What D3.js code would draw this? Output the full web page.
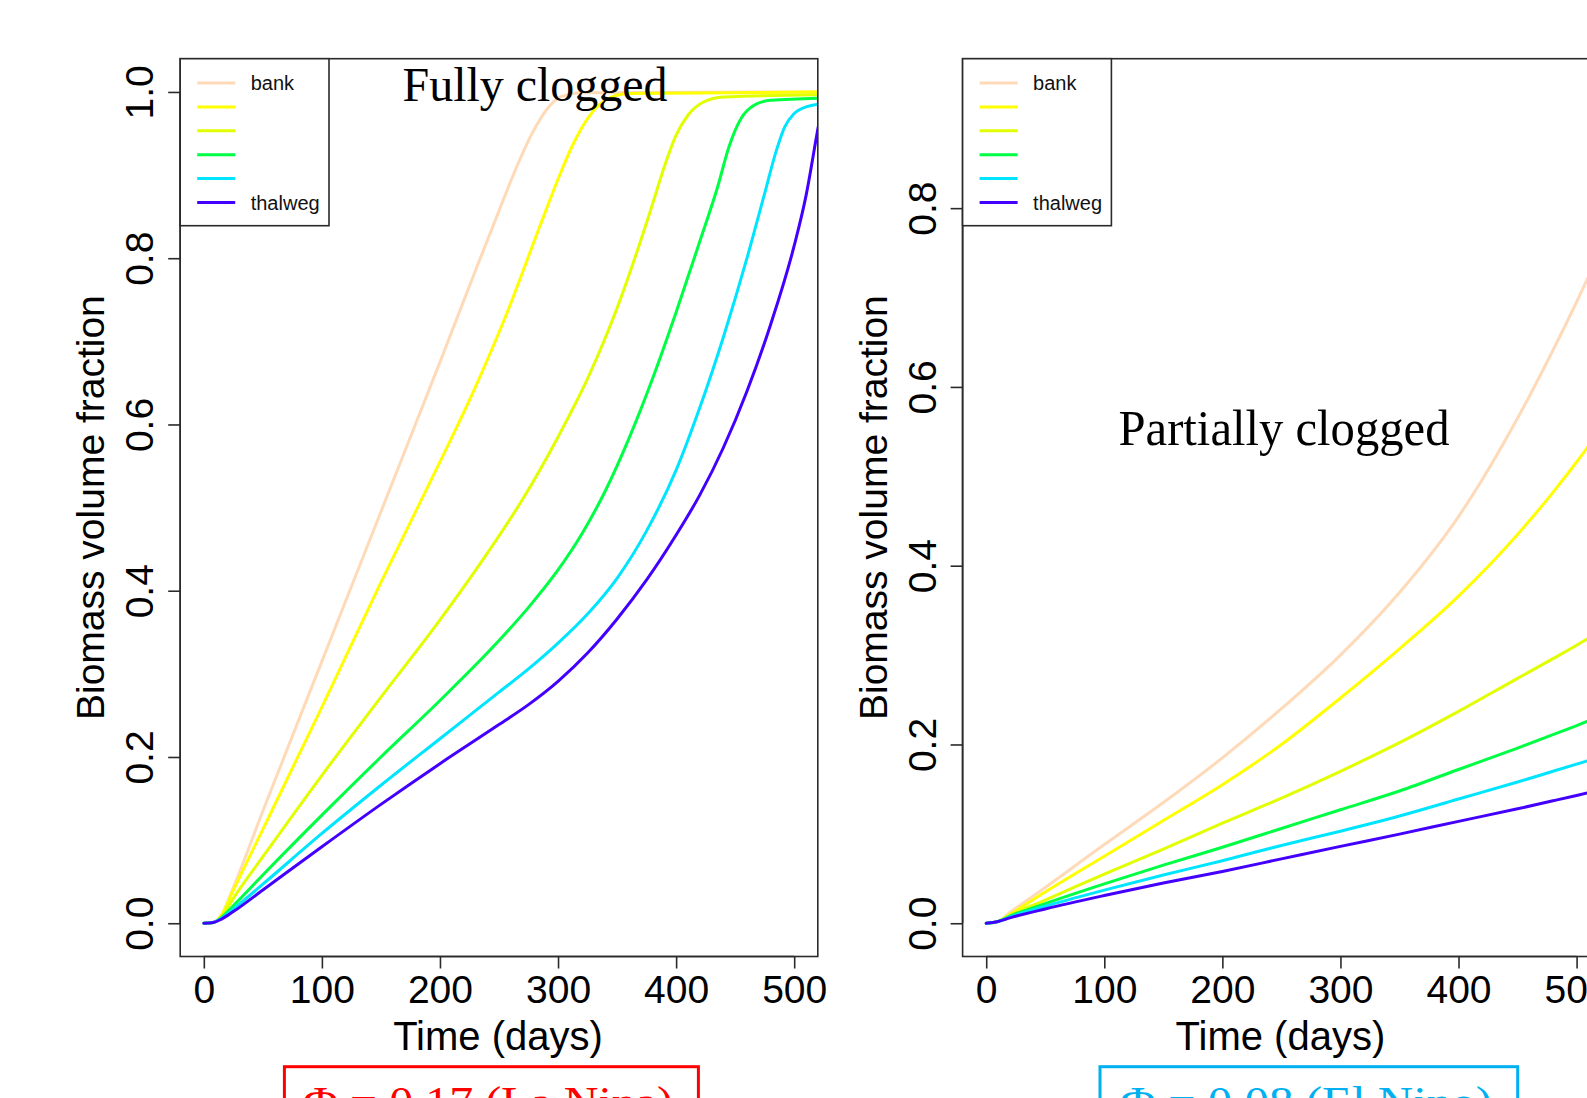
<!DOCTYPE html>
<html><head><meta charset="utf-8">
<script src="https://cdn.jsdelivr.net/npm/d3@7"></script>
<style>html,body{margin:0;padding:0;background:#fff;overflow:hidden}</style>
</head><body>
<svg id="chart" width="1587" height="1098"></svg>
<script>
// ---------------- DATA ----------------
const seriesNames = ["bank", "", "", "", "", "thalweg"];
const seriesColors = ["#FFDAB9", "#FFFF00", "#E2FF00", "#00FF44", "#00E5FF", "#4400FF"];
const xTicks = [0, 100, 200, 300, 400, 500];
const yTicksFull = [0, 0.2, 0.4, 0.6, 0.8, 1.0];
const yTicksPartial = [0, 0.2, 0.4, 0.6, 0.8];

// Fully clogged panel: [day, biomass volume fraction]
const fullBank    = [[0,0],[8,0.001],[15,0.01],[25,0.043],[50,0.135],[100,0.315],[150,0.495],[200,0.675],[230,0.785],[250,0.857],[265,0.91],[278,0.95],[290,0.978],[302,0.994],[320,0.999],[540,1]];
const fullYellow  = [[0,0],[8,0.001],[15,0.01],[25,0.04],[50,0.113],[100,0.26],[150,0.41],[200,0.555],[230,0.645],[257,0.735],[285,0.84],[300,0.895],[312,0.935],[325,0.968],[340,0.99],[360,0.998],[540,1]];
const fullYG      = [[0,0],[8,0.001],[15,0.008],[25,0.03],[50,0.08],[100,0.178],[150,0.272],[200,0.365],[240,0.445],[270,0.51],[300,0.585],[325,0.655],[350,0.74],[365,0.8],[380,0.865],[390,0.91],[400,0.948],[410,0.972],[422,0.987],[440,0.994],[540,0.997]];
const fullGreen   = [[0,0],[8,0.001],[15,0.007],[25,0.021],[50,0.058],[100,0.13],[150,0.2],[200,0.268],[250,0.34],[275,0.38],[300,0.425],[320,0.468],[340,0.52],[360,0.583],[380,0.655],[400,0.735],[420,0.82],[435,0.885],[445,0.935],[455,0.968],[465,0.983],[480,0.99],[540,0.993]];
const fullCyan    = [[0,0],[8,0.001],[15,0.006],[25,0.017],[50,0.047],[100,0.108],[150,0.166],[200,0.222],[250,0.278],[275,0.306],[300,0.337],[325,0.372],[350,0.415],[375,0.472],[400,0.545],[420,0.62],[440,0.705],[460,0.8],[475,0.878],[485,0.93],[492,0.958],[500,0.974],[510,0.982],[525,0.986],[540,0.987]];
const fullBlue    = [[0,0],[8,0.001],[15,0.005],[25,0.014],[50,0.04],[100,0.092],[150,0.143],[200,0.192],[250,0.239],[275,0.263],[300,0.291],[325,0.325],[350,0.366],[375,0.413],[400,0.467],[420,0.515],[440,0.572],[460,0.64],[480,0.72],[500,0.815],[510,0.875],[520,0.955],[530,1.03]];

// Partially clogged panel
const partDays    = [0, 10, 20, 50, 100, 150, 200, 250, 300, 350, 400, 450, 480, 500, 520];
const partBank    = [0, 0.002, 0.012, 0.04, 0.088, 0.135, 0.185, 0.24, 0.3, 0.37, 0.455, 0.565, 0.641, 0.695, 0.752];
const partYellow  = [0, 0.002, 0.01, 0.035, 0.075, 0.115, 0.155, 0.2, 0.252, 0.307, 0.366, 0.435, 0.482, 0.516, 0.552];
const partYG      = [0, 0.002, 0.009, 0.026, 0.055, 0.083, 0.112, 0.14, 0.17, 0.202, 0.237, 0.274, 0.296, 0.311, 0.327];
const partGreen   = [0, 0.002, 0.008, 0.022, 0.044, 0.065, 0.085, 0.106, 0.127, 0.148, 0.172, 0.196, 0.211, 0.221, 0.232];
const partCyan    = [0, 0.002, 0.007, 0.019, 0.037, 0.054, 0.07, 0.087, 0.103, 0.12, 0.139, 0.158, 0.17, 0.178, 0.186];
const partBlue    = [0, 0.002, 0.006, 0.016, 0.031, 0.045, 0.058, 0.072, 0.086, 0.0997, 0.114, 0.128, 0.137, 0.143, 0.149];

// ---------------- DRAW ----------------
const svg = d3.select("#chart");
const sans = "'Liberation Sans', Arial, sans-serif";
const serif = "'Liberation Serif', 'Times New Roman', serif";

const panels = [
  { id: "full", left: 180.2, yDomain: [-0.04, 1.04], yTicks: yTicksFull,
    series: [fullBank, fullYellow, fullYG, fullGreen, fullCyan, fullBlue],
    title: "Fully clogged", titleX: 535, titleY: 101, titleSize: 48, titleLen: 265,
    caption: "Φ = 0.17 (La Nina)", capColor: "#FF0000", capBox: [284.4, 698.4], capText: [303, 673] },
  { id: "part", left: 962.6, yDomain: [-0.0372, 0.9672], yTicks: yTicksPartial,
    series: [partBank, partYellow, partYG, partGreen, partCyan, partBlue].map(v => v.map((d, i) => [partDays[i], d])),
    title: "Partially clogged", titleX: 1284, titleY: 445, titleSize: 50, titleLen: 331,
    caption: "Φ = 0.08 (El Nino)", capColor: "#00B0F0", capBox: [1100, 1517.7], capText: [1120, 1492] }
];

const plotTop = 58.7, plotBottom = 956.5, plotWidth = 637.6;

panels.forEach(p => {
  const x = d3.scaleLinear().domain([-20, 520]).range([p.left, p.left + plotWidth]);
  const y = d3.scaleLinear().domain(p.yDomain).range([plotBottom, plotTop]);
  const g = svg.append("g");

  g.append("clipPath").attr("id", "clip-" + p.id)
    .append("rect").attr("x", p.left).attr("y", plotTop).attr("width", plotWidth).attr("height", plotBottom - plotTop);

  const line = d3.line().x(d => x(d[0])).y(d => y(d[1])).curve(d3.curveMonotoneX);
  const lines = g.append("g").attr("clip-path", `url(#clip-${p.id})`);
  p.series.forEach((s, i) => {
    lines.append("path").datum(s).attr("d", line)
      .attr("fill", "none").attr("stroke", seriesColors[i]).attr("stroke-width", 3)
      .attr("stroke-linejoin", "round").attr("stroke-linecap", "round");
  });

  // box
  g.append("rect").attr("x", p.left).attr("y", plotTop).attr("width", plotWidth).attr("height", plotBottom - plotTop)
    .attr("fill", "none").attr("stroke", "#2a2a2a").attr("stroke-width", 1.6);

  // x axis
  const xAxis = d3.axisBottom(x).tickValues(xTicks).tickSize(12).tickPadding(4).tickFormat(d3.format("d"));
  const xa = g.append("g").attr("transform", `translate(0,${plotBottom})`).call(xAxis);
  xa.select(".domain").attr("d", `M${x(0)},0H${x(500)}`).attr("stroke", "#2a2a2a").attr("stroke-width", 1.6);
  xa.selectAll(".tick line").attr("stroke", "#2a2a2a").attr("stroke-width", 1.6);
  xa.selectAll(".tick text").attr("font-family", sans).attr("font-size", 39).attr("fill", "#000")
    .attr("dy", null).attr("y", 46);

  // y axis
  const yAxis = d3.axisLeft(y).tickValues(p.yTicks).tickSize(12).tickFormat(d3.format(".1f"));
  const ya = g.append("g").attr("transform", `translate(${p.left},0)`).call(yAxis);
  ya.select(".domain").attr("d", `M0,${y(p.yTicks[0])}V${y(p.yTicks[p.yTicks.length - 1])}`)
    .attr("stroke", "#2a2a2a").attr("stroke-width", 1.6);
  ya.selectAll(".tick line").attr("stroke", "#2a2a2a").attr("stroke-width", 1.6);
  ya.selectAll(".tick text").attr("font-family", sans).attr("font-size", 39).attr("fill", "#000")
    .attr("x", null).attr("dy", null).attr("text-anchor", "middle")
    .attr("transform", "translate(-27,0) rotate(-90)");

  // axis titles
  g.append("text").attr("x", p.left + plotWidth / 2 - 1).attr("y", 1050)
    .attr("text-anchor", "middle").attr("font-family", sans).attr("font-size", 40)
    .text("Time (days)");
  g.append("text").attr("transform", `translate(${p.left - 76},${(plotTop + plotBottom) / 2}) rotate(-90)`)
    .attr("text-anchor", "middle").attr("font-family", sans).attr("font-size", 39)
    .text("Biomass volume fraction");

  // legend
  const lg = g.append("g");
  lg.append("rect").attr("x", p.left).attr("y", plotTop).attr("width", 148.8).attr("height", 167)
    .attr("fill", "#fff").attr("stroke", "#2a2a2a").attr("stroke-width", 1.6);
  seriesNames.forEach((n, i) => {
    const ly = 83 + i * 23.9;
    lg.append("line").attr("x1", p.left + 17).attr("x2", p.left + 55).attr("y1", ly).attr("y2", ly)
      .attr("stroke", seriesColors[i]).attr("stroke-width", 3);
    if (n) lg.append("text").attr("x", p.left + 70.5).attr("y", ly + 7)
      .attr("font-family", sans).attr("font-size", 20).attr("fill", "#111").text(n);
  });

  // panel title
  g.append("text").attr("x", p.titleX).attr("y", p.titleY).attr("text-anchor", "middle")
    .attr("font-family", serif).attr("font-size", p.titleSize).attr("fill", "#000")
    .attr("textLength", p.titleLen).attr("lengthAdjust", "spacingAndGlyphs").text(p.title);

  // caption box (cut off at bottom of figure, as in the source)
  g.append("rect").attr("x", p.capBox[0]).attr("y", 1066.7).attr("width", p.capBox[1] - p.capBox[0]).attr("height", 80)
    .attr("fill", "none").attr("stroke", p.capColor).attr("stroke-width", 3);
  g.append("text").attr("x", p.capText[0]).attr("y", 1117)
    .attr("font-family", serif).attr("font-size", 44).attr("fill", p.capColor)
    .attr("textLength", p.capText[1] - p.capText[0]).attr("lengthAdjust", "spacingAndGlyphs")
    .text(p.caption);
});
</script>
</body></html>
